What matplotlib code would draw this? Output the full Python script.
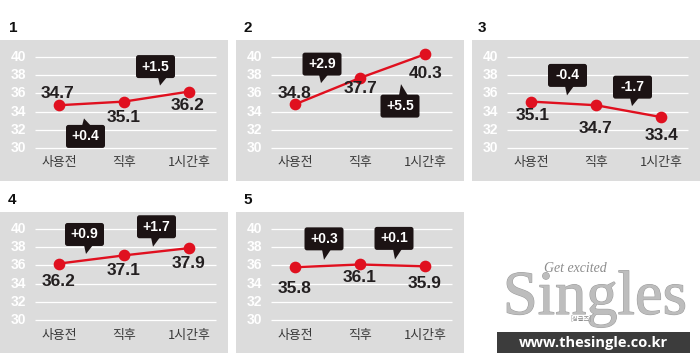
import matplotlib
matplotlib.use('Agg')
import matplotlib.pyplot as plt
from matplotlib.patches import FancyBboxPatch, Polygon, Rectangle
from matplotlib.transforms import IdentityTransform
import matplotlib.patheffects as pe

# ---------------- data ----------------
categories = ['사용전', '직후', '1시간후']
panel_ids = ['1', '2', '3', '4', '5']
values_1 = [34.7, 35.1, 36.2]
values_2 = [34.8, 37.7, 40.3]
values_3 = [35.1, 34.7, 33.4]
values_4 = [36.2, 37.1, 37.9]
values_5 = [35.8, 36.1, 35.9]
changes_1 = ['+0.4', '+1.5']
changes_2 = ['+2.9', '+5.5']
changes_3 = ['-0.4', '-1.7']
changes_4 = ['+0.9', '+1.7']
changes_5 = ['+0.3', '+0.1']
y_ticks = [30, 32, 34, 36, 38, 40]

series = [values_1, values_2, values_3, values_4, values_5]
changes = [changes_1, changes_2, changes_3, changes_4, changes_5]

# ---------------- layout / style ----------------
W, H = 700, 353
PW, PH = 228, 141
origins = [(0, 40), (236, 40), (472, 40), (0, 212), (236, 212)]
num_pos = [(9, 28), (243, 28), (478, 28), (8, 200), (243, 200)]
# value label offsets (dx, dy down) in px from the point
label_off = [
    [(-1, -12), (0, 16), (-1, 14)],
    [(0, -11), (1, 11), (1, 19)],
    [(2, 14), (0, 23), (1, 18)],
    [(0, 18), (0, 15), (0, 15)],
    [(0, 21), (0, 13), (0, 17)],
]
# callout: (box dx, box dy, tip dx, tip dy) from segment midpoint, px, dy down
callout_off = [
    [(-6, 33, -7.5, 15), (-1, -30, 3.5, -11)],
    [(-5.5, -27, -6.5, -8), (7.5, 40, 8.5, 18)],
    [(4, -28, 3.5, -8), (4, -24, 3.5, -5)],
    [(-7, -25, -5.5, -5.5), (0, -25, -3.5, -5)],
    [(-3.5, -27, -3.5, -6), (1.5, -27, 2.5, -6)],
]
X0, XSTEP = 59, 65
Y40, YSTEP = 17, 9.1

GREY = '#dcdcdc'
RED = '#e0101f'
DARK = '#1c1314'
TXT = '#231f20'
NUM_FONT = ['Liberation Sans', 'DejaVu Sans']
KR_FONT = ['Noto Sans CJK KR', 'DejaVu Sans']

fig = plt.figure(figsize=(W / 100, H / 100), dpi=100)
fig.patch.set_facecolor('white')

for p, (vals, chg) in enumerate(zip(series, changes)):
    x0, y0 = origins[p]
    ax = fig.add_axes([x0 / W, 1 - (y0 + PH) / H, PW / W, PH / H])
    ax.set_axis_off()
    ax.set_xlim(-X0 / XSTEP, (PW - X0) / XSTEP)
    ax.set_ylim(40 - (PH - Y40) / YSTEP, 40 + Y40 / YSTEP)
    ax.add_patch(Rectangle((0, 0), 1, 1, transform=ax.transAxes, fc=GREY,
                           ec='none', zorder=0))
    ax.hlines(y_ticks, (35 - X0) / XSTEP, (216 - X0) / XSTEP, color='white',
              lw=0.9, zorder=1)
    for t in y_ticks:
        ax.text((26 - X0) / XSTEP, t, str(t), ha='right', va='center',
                color='white', fontsize=10, fontweight='bold', family=NUM_FONT)
    xs = list(range(len(categories)))
    ax.plot(xs, vals, color=RED, lw=1.7, marker='o', ms=7.4, zorder=3,
            clip_on=False)
    for i, c in enumerate(categories):
        ax.text(i, 40 - (123 - Y40) / YSTEP, c, ha='center', va='center',
                fontsize=9.3, color='#3a3a3a', family=KR_FONT)
    for i, v in enumerate(vals):
        dx, dy = label_off[p][i]
        ax.annotate(f'{v:.1f}', xy=(i, v), xytext=(dx, -dy),
                    textcoords='offset pixels', ha='center', va='center',
                    fontsize=12.5, fontweight='bold', color=TXT,
                    family=NUM_FONT, zorder=4)
    fig.text(num_pos[p][0] / W, 1 - num_pos[p][1] / H, panel_ids[p],
             ha='left', va='center', fontsize=11, fontweight='bold',
             color='#111111', family=NUM_FONT)
    # callouts
    fig.canvas.draw()
    for s in range(len(chg)):
        mx, my = ax.transData.transform((s + 0.5, (vals[s] + vals[s + 1]) / 2))
        bdx, bdy, tdx, tdy = callout_off[p][s]
        cx, cy = mx + bdx, my - bdy
        tx, ty = mx + tdx, my - tdy
        bw, bh = 39, 23
        box = FancyBboxPatch((cx - bw / 2, cy - bh / 2), bw, bh,
                             boxstyle='round,pad=0,rounding_size=2.5',
                             fc=DARK, ec='none', transform=IdentityTransform(),
                             zorder=5)
        fig.add_artist(box)
        if ty < cy:
            edge = cy - bh / 2 + 1
        else:
            edge = cy + bh / 2 - 1
        tail = Polygon([(tx - 2, edge), (tx + 7, edge), (tx, ty)], closed=True,
                       fc=DARK, ec='none', transform=IdentityTransform(),
                       zorder=5)
        fig.add_artist(tail)
        fig.text(cx / W, cy / H, chg[s], ha='center', va='center',
                 fontsize=10, fontweight='bold', color='white',
                 family=NUM_FONT, zorder=6)

# ---------------- logo ----------------
fig.text(595 / W, 1 - 314 / H, 'Singles', ha='center', va='baseline',
         fontsize=45, color='#bdbdbd', family=['Liberation Serif', 'DejaVu Serif'],
         path_effects=[pe.withStroke(linewidth=0.8, foreground='#a0a0a0')])
fig.text(575 / W, 1 - 268 / H, 'Get excited', ha='center', va='center',
         fontsize=10, style='italic', color='#8c8c8c',
         family=['Liberation Serif', 'DejaVu Serif'])
fig.text(581 / W, 1 - 318 / H, '[싱글즈]', ha='center', va='center',
         fontsize=4.5, color='#888888', family=KR_FONT)
fig.add_artist(Rectangle((497 / W, 0), 193 / W, 21 / H,
                         transform=fig.transFigure, fc='#3c3c3c', ec='none'))
fig.text(593.5 / W, 1 - 342.5 / H, 'www.thesingle.co.kr', ha='center',
         va='center', fontsize=10.5, fontweight='bold', color='white',
         family=['Open Sans', 'DejaVu Sans'])

fig.savefig('out.png', dpi=100)
